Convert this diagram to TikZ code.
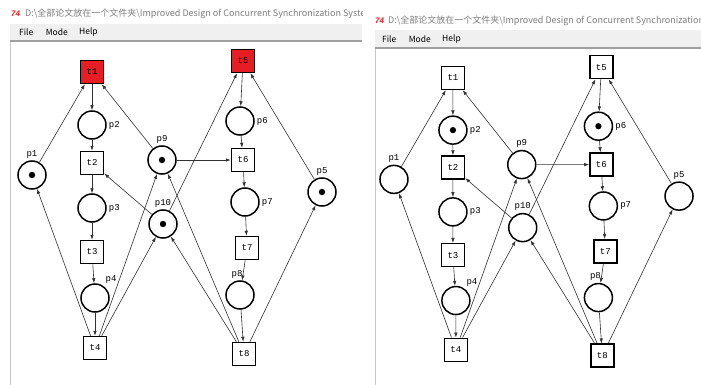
\documentclass[tikz,border=0pt]{standalone}
\usepackage{fontspec}
\setmainfont{Liberation Sans}
\newfontfamily\cjkfont{Noto Sans CJK SC}
\newfontfamily\netfont{Liberation Mono}
\usetikzlibrary{arrows.meta, positioning}
\definecolor{firered}  {RGB}{230, 30, 35}
\definecolor{bargray}  {RGB}{240,240,240}
\definecolor{titlegray}{RGB}{125,125,125}
\definecolor{arcgray}  {RGB}{ 50, 50, 50}

% one copy of the net: #1 fill of t1/t5, #2 marked places
\newcommand{\petrinet}[2]{%
  \node[trans, fill=#1] (t1) at (92,72) {t1};
  \node[place, label={[lbl]right:p2}] (p2) at (92,125) {};
  \node[trans] (t2) at (92,163) {t2};
  \node[place, label={[lbl]right:p3}] (p3) at (92,208) {};
  \node[trans] (t3) at (92,252) {t3};
  \node[place, label={[lbl]55:p4}] (p4) at (95,298) {};
  \node[trans] (t4) at (95,348) {t4};
  \node[place, label={[lbl]above:p1}] (p1) at (32,175) {};
  \node[place, label={[lbl]above:p9}] (p9) at (162,160) {};
  \node[place, label={[lbl]above:p10}] (p10) at (163,224) {};
  \node[trans, fill=#1] (t5) at (243,61) {t5};
  \node[place, label={[lbl]right:p6}] (p6) at (240,121) {};
  \node[trans] (t6) at (243,160) {t6};
  \node[place, label={[lbl]right:p7}] (p7) at (245,202) {};
  \node[trans] (t7) at (247,248) {t7};
  \node[place, label={[lbl,xshift=-3pt]above:p8}] (p8) at (240,295) {};
  \node[trans] (t8) at (244,354) {t8};
  \node[place, label={[lbl]above:p5}] (p5) at (322,192) {};
  % tokens
  \foreach \p in {#2} \fill (\p) circle (3.2);
  % arcs
  \foreach \a/\b in {p1/t1, t1/p2, p2/t2, t2/p3, p3/t3, t3/p4, p4/t4, t4/p1,
      p9/t1, p10/t2, t4/p9, t4/p10, p9/t6, p10/t5,
      p5/t5, t5/p6, p6/t6, t6/p7, p7/t7, t7/p8, p8/t8,
      t8/p9, t8/p10, t8/p5}
    \draw[flow] (\a) -- (\b);
}

\begin{document}
\begin{tikzpicture}[
  x=1pt, y=-1pt,
  place/.style={circle, draw, line width=1.5pt, fill=white,
    minimum size=28pt, inner sep=0pt},
  trans/.style={rectangle, draw, line width=1.5pt, fill=white,
    minimum size=23pt, inner sep=0pt, font=\netfont\fontsize{9}{10}\selectfont},
  lbl/.style={font=\netfont\fontsize{9}{10}\selectfont, inner sep=2pt},
  flow/.style={-{Latex[length=5pt,width=3.5pt]}, line width=0.6pt, arcgray},
  titletxt/.style={font=\cjkfont\fontsize{9}{10}\selectfont, text=titlegray,
    inner sep=0pt, anchor=west},
  icon/.style={font=\bfseries\itshape\fontsize{8}{10}\selectfont, text=firered,
    inner sep=0pt, anchor=west},
  menu/.style={font=\cjkfont\fontsize{8.5}{10}\selectfont, inner sep=0pt}
]
  \useasboundingbox (0,0) rectangle (701,385);
  \fill[white] (0,0) rectangle (701,385);

  % left window
  \fill[bargray] (10,24) rectangle (362,41);
  \draw[gray!75, line width=1.5pt] (10,41) -- (362,41);
  \draw[gray!45] (10,42) -- (10,385);
  \begin{scope}
    \clip (0,0) rectangle (362,24);
    \node[icon] (Licon) at (11,14) {74};
    \node[titletxt] (Ltitle) at (25,14)
      {D:\textbackslash 全部论文放在一个文件夹\textbackslash Improved Design of Concurrent Synchronization System};
  \end{scope}
  \node[menu, anchor=west] (Lfile) at (19,32) {File};
  \node[menu, right=12pt of Lfile] (Lmode) {Mode};
  \node[menu, right=11pt of Lmode] (Lhelp) {Help};

  % right window
  \fill[bargray] (375,30) rectangle (701,48);
  \draw[gray!75, line width=1.5pt] (375,48) -- (701,48);
  \draw[gray!45] (375,49) -- (375,385);
  \begin{scope}
    \clip (365,0) rectangle (701,30);
    \node[icon] (Ricon) at (375,21) {74};
    \node[titletxt] (Rtitle) at (388,21)
      {D:\textbackslash 全部论文放在一个文件夹\textbackslash Improved Design of Concurrent Synchronization System};
  \end{scope}
  \node[menu, anchor=west] (Rfile) at (382,39) {File};
  \node[menu, right=12pt of Rfile] (Rmode) {Mode};
  \node[menu, right=11pt of Rmode] (Rhelp) {Help};

  % nets: before and after firing
  \begin{scope}[name prefix=L-]
    \petrinet{firered}{p1,p9,p10,p5}
  \end{scope}
  \begin{scope}[name prefix=R-, shift={(362.5,7)}, xscale=0.983, yscale=0.985]
    \petrinet{white}{p2,p6}
  \end{scope}
\end{tikzpicture}
\end{document}
